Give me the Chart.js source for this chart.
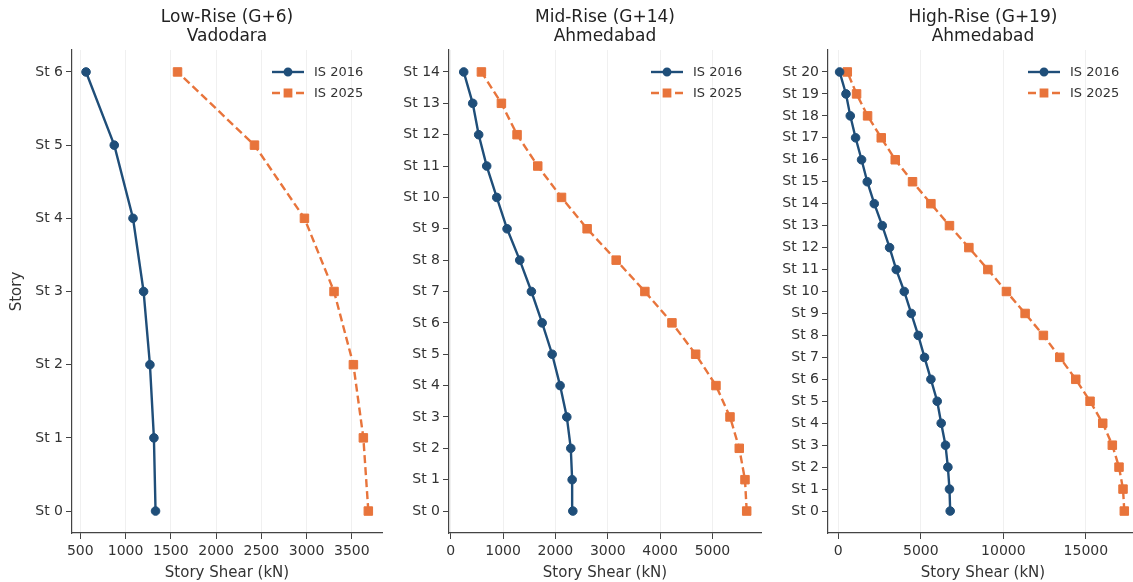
<!DOCTYPE html>
<html>
<head>
<meta charset="utf-8">
<script src="https://cdn.jsdelivr.net/npm/chart.js@4.4.0/dist/chart.umd.min.js"></script>
<style>
  html, body { margin: 0; padding: 0; background: #fff; overflow: hidden; }
  #wrap { position: relative; width: 1133px; height: 582px; overflow: hidden; }
  .panel { position: absolute; top: 0; height: 582px; }
</style>
</head>
<body>
<div id="wrap">
  <div class="panel" style="left:0;width:390px"><canvas id="low"></canvas></div>
  <div class="panel" style="left:390px;width:380px"><canvas id="mid"></canvas></div>
  <div class="panel" style="left:770px;width:380px"><canvas id="high"></canvas></div>
</div>
<script>
// story shear (kN), listed from St 0 (base) up to the roof
const lowStories = ['St 0', 'St 1', 'St 2', 'St 3', 'St 4', 'St 5', 'St 6']
const low2016 = [1331, 1313, 1269, 1199, 1082, 875, 563]
const low2025 = [3682, 3627, 3517, 3303, 2976, 2424, 1574]

const midStories = ['St 0', 'St 1', 'St 2', 'St 3', 'St 4', 'St 5', 'St 6', 'St 7',
  'St 8', 'St 9', 'St 10', 'St 11', 'St 12', 'St 13', 'St 14']
const mid2016 = [2333, 2320, 2294, 2218, 2090, 1938, 1747, 1542, 1319, 1077, 880, 688, 535, 421, 249]
const mid2025 = [5654, 5621, 5512, 5335, 5067, 4679, 4226, 3709, 3161, 2606, 2117, 1663, 1268, 969, 587]

const highStories = ['St 0', 'St 1', 'St 2', 'St 3', 'St 4', 'St 5', 'St 6', 'St 7',
  'St 8', 'St 9', 'St 10', 'St 11', 'St 12', 'St 13', 'St 14', 'St 15', 'St 16',
  'St 17', 'St 18', 'St 19', 'St 20']
const high2016 = [6780, 6737, 6640, 6495, 6235, 5993, 5611, 5224, 4843, 4419, 3995,
  3511, 3107, 2663, 2179, 1755, 1410, 1047, 726, 466, 79]
const high2025 = [17330, 17252, 17010, 16604, 16023, 15254, 14389, 13420, 12427, 11320,
  10188, 9062, 7911, 6737, 5611, 4498, 3450, 2603, 1774, 1108, 545]

const lowTicks = [500, 1000, 1500, 2000, 2500, 3000, 3500]
const midTicks = [0, 1000, 2000, 3000, 4000, 5000]
const highTicks = [0, 5000, 10000, 15000]

const seriesNames = ['IS 2016', 'IS 2025']

const FONT = '"DejaVu Sans", sans-serif'
const BLUE = '#1f4e79'
const ORANGE = '#e8743b'
const INK = '#333333'

// two-line heading centred over the plot area
const headPlugin = {
  id: 'head',
  afterDraw(chart, args, opts) {
    const { ctx, chartArea } = chart
    const cx = (chartArea.left + chartArea.right) / 2
    ctx.save()
    ctx.fillStyle = '#222'
    ctx.font = '17px ' + FONT
    ctx.textAlign = 'center'
    ctx.textBaseline = 'middle'
    opts.lines.forEach((t, i) => ctx.fillText(t, cx, 18 + i * 19))
    ctx.restore()
  }
}

// legend in the top right corner: line with a small marker, then label
const keyPlugin = {
  id: 'key',
  afterDraw(chart) {
    const { ctx, chartArea } = chart
    chart.data.datasets.forEach((ds, i) => {
      const y = chartArea.top + 22 + i * 21
      const x0 = chartArea.right - 110
      const x1 = x0 + 32
      ctx.save()
      ctx.strokeStyle = ds.borderColor
      ctx.lineWidth = ds.borderWidth
      ctx.setLineDash(ds.borderDash || [])
      ctx.beginPath()
      ctx.moveTo(x0, y)
      ctx.lineTo(x1, y)
      ctx.stroke()
      ctx.setLineDash([])
      ctx.fillStyle = ds.pointBackgroundColor
      ctx.strokeStyle = ds.pointBorderColor
      Chart.helpers.drawPoint(ctx, { pointStyle: ds.pointStyle, radius: ds.pointRadius * 0.75, borderWidth: 1 }, (x0 + x1) / 2, y)
      ctx.fillStyle = INK
      ctx.font = '13px ' + FONT
      ctx.textAlign = 'left'
      ctx.textBaseline = 'middle'
      ctx.fillText(ds.label, x1 + 10, y + 1)
      ctx.restore()
    })
  }
}

function points(vals) {
  return vals.map((v, i) => ({ x: v, y: i }))
}

function makePanel(id, heading, stories, s16, s25, xTicks, xMin, xMax, yPad, yWidth, padRight, yTitle) {
  const storyIdx = stories.map((s, i) => i)
  new Chart(document.getElementById(id), {
    type: 'scatter',
    data: {
      datasets: [
        {
          label: seriesNames[0],
          data: points(s16),
          showLine: true,
          borderColor: BLUE,
          backgroundColor: BLUE,
          borderWidth: 2.4,
          pointStyle: 'circle',
          pointRadius: 4.3,
          pointBackgroundColor: BLUE,
          pointBorderColor: BLUE,
          pointBorderWidth: 1
        },
        {
          label: seriesNames[1],
          data: points(s25),
          showLine: true,
          borderColor: ORANGE,
          backgroundColor: ORANGE,
          borderWidth: 2.4,
          borderDash: [8, 4],
          pointStyle: 'rect',
          pointRadius: 6,
          pointBackgroundColor: ORANGE,
          pointBorderColor: ORANGE,
          pointBorderWidth: 1
        }
      ]
    },
    options: {
      responsive: true,
      maintainAspectRatio: false,
      animation: false,
      devicePixelRatio: 1,
      layout: { padding: { top: 50, right: padRight, bottom: 0, left: 0 } },
      plugins: {
        legend: { display: false },
        tooltip: { enabled: false },
        head: { lines: heading }
      },
      scales: {
        x: {
          type: 'linear',
          min: xMin,
          max: xMax,
          afterBuildTicks: (axis) => { axis.ticks = xTicks.map(v => ({ value: v })) },
          afterFit: (scale) => { scale.height = 49 },
          ticks: {
            autoSkip: false,
            maxRotation: 0,
            padding: 4,
            color: INK,
            font: { family: FONT, size: 14 },
            callback: (v) => String(v)
          },
          grid: {
            color: 'rgba(0,0,0,0.06)',
            tickColor: '#444',
            tickLength: 6,
            lineWidth: 1
          },
          border: { color: '#444', width: 1.2 },
          title: {
            display: true,
            text: 'Story Shear (kN)',
            color: INK,
            font: { family: FONT, size: 15 },
            padding: { top: 0, bottom: 0 }
          }
        },
        y: {
          type: 'linear',
          min: -yPad,
          max: stories.length - 1 + yPad,
          afterBuildTicks: (axis) => { axis.ticks = storyIdx.map(v => ({ value: v })) },
          afterFit: (scale) => { scale.width = yWidth },
          ticks: {
            autoSkip: false,
            padding: 3,
            color: INK,
            font: { family: FONT, size: 14 },
            callback: (v) => stories[v]
          },
          grid: {
            drawOnChartArea: false,
            color: '#444',
            tickColor: '#444',
            tickLength: 6
          },
          border: { color: '#444', width: 1.2 },
          title: {
            display: !!yTitle,
            text: yTitle || '',
            color: INK,
            font: { family: FONT, size: 15 },
            padding: { top: 8, bottom: 0 }
          }
        }
      }
    },
    plugins: [headPlugin, keyPlugin]
  })
}

makePanel('low', ['Low-Rise (G+6)', 'Vadodara'], lowStories, low2016, low2025,
  lowTicks, 408, 3833, 0.3, 72, 8, 'Story')
makePanel('mid', ['Mid-Rise (G+14)', 'Ahmedabad'], midStories, mid2016, mid2025,
  midTicks, -32, 5927, 0.7, 59, 9, null)
makePanel('high', ['High-Rise (G+19)', 'Ahmedabad'], highStories, high2016, high2025,
  highTicks, -624, 18160, 1.0, 58, 12, null)
</script>
</body>
</html>
